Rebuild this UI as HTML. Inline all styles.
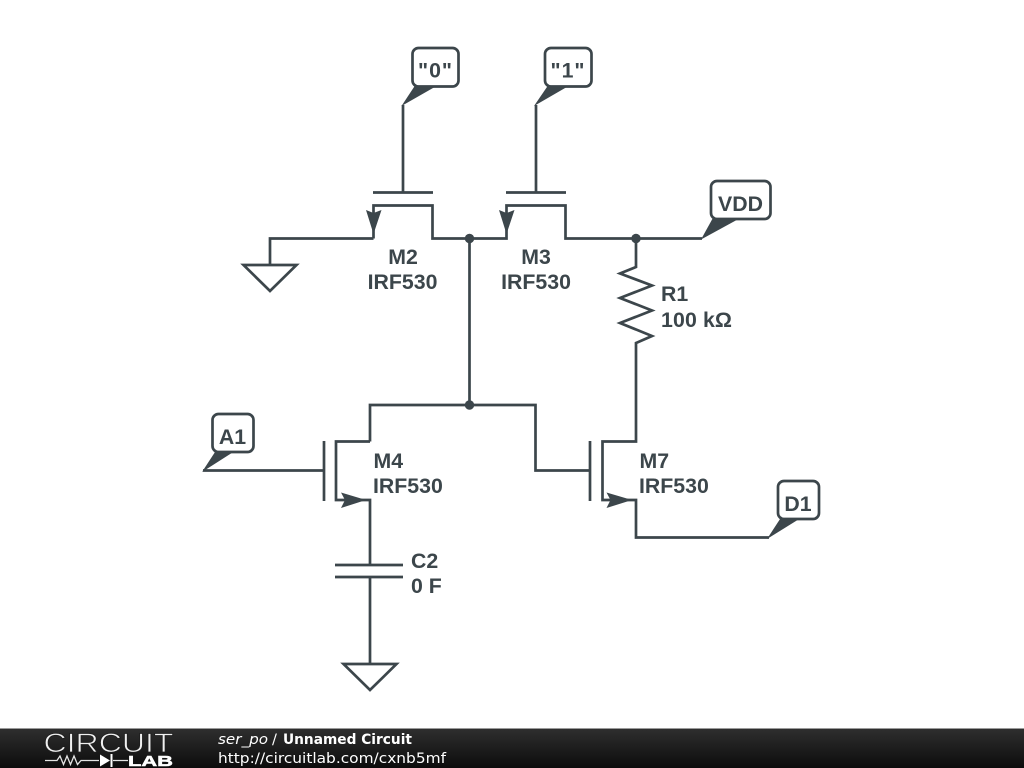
<!DOCTYPE html>
<html><head><meta charset="utf-8"><style>
html,body{margin:0;padding:0;background:#fff;width:1024px;height:768px;overflow:hidden}
svg{display:block}
.w{fill:none;stroke:#3c464b;stroke-width:2.7;stroke-linecap:butt;stroke-linejoin:miter}
.f{fill:#3c464b;stroke:none}
.t{font-family:"Liberation Sans",sans-serif;font-weight:bold;font-size:21.3px;fill:#3c464b}
.d{font-family:"DejaVu Sans",sans-serif;font-size:14.6px;fill:#fff}
</style></head><body>
<svg width="1024" height="768" viewBox="0 0 1024 768" xmlns="http://www.w3.org/2000/svg">
<defs><linearGradient id="g" x1="0" y1="0" x2="0" y2="1"><stop offset="0" stop-color="#2e2e2e"/><stop offset="1" stop-color="#0c0c0c"/></linearGradient></defs>
<rect width="1024" height="768" fill="#fff"/>
<!-- wires -->
<path class="w" d="M403 105V192.5M373 192.5H433M373.5 238.5V205.5H432.5V238.5H506.5V205.5H565.5V238.5H702M506 192.5H566M536 105V192.5"/>
<path class="w" d="M373.5 238.5H270V265"/>
<path class="w" d="M243.5 265H296.5L270 291Z"/>
<path class="w" d="M469.5 238.5V405M370 441.5V405H535.5V470.5H590"/>
<path class="w" d="M203 470.5H324M324 441V501M370 441.5H336V500H370V565M335 565H403M335 577H403M370 577V664"/>
<path class="w" d="M343.5 664H396.5L370 690Z"/>
<path class="w" d="M636 238.5V267L620 273.5L652 285.5L620 298L652 310.5L620 323L652 336L636 343V441.5H602.5V500H636V537.5H769"/>
<path class="w" d="M590 441V501"/>
<!-- junctions -->
<circle class="f" cx="469.5" cy="238.5" r="4.7"/><circle class="f" cx="636" cy="238.5" r="4.7"/><circle class="f" cx="469.5" cy="405" r="4.7"/>
<!-- arrows -->
<path class="f" d="M366 210L373.5 213L381.5 210L373.5 234Z"/>
<path class="f" d="M499 210L506.5 213L514.5 210L506.5 234Z"/>
<path class="f" d="M341 492.5L345 500L341 508L366 500Z"/>
<path class="f" d="M606.5 492.5L610.5 500L606.5 508L632 500Z"/>
<!-- tails -->
<path class="f" d="M401.500 106L416 84H440Z"/><path class="f" d="M534 106L549 84H572Z"/>
<path class="f" d="M701 239.500L714 216H744Z"/><path class="f" d="M202 472L217 449H238Z"/><path class="f" d="M767 539L782 516H804Z"/>
<!-- boxes -->
<rect class="w" x="412.5" y="48" width="46" height="38.5" rx="6" style="fill:#fff"/>
<rect class="w" x="545" y="48" width="46.5" height="38.5" rx="6" style="fill:#fff"/>
<rect class="w" x="711" y="181" width="59.5" height="38" rx="6" style="fill:#fff"/>
<rect class="w" x="212.5" y="414" width="41" height="38" rx="6" style="fill:#fff"/>
<rect class="w" x="778" y="481" width="41" height="38" rx="6" style="fill:#fff"/>
<!-- labels -->
<g class="t" text-anchor="middle">
<text x="435.5" y="77.5" letter-spacing="1">"0"</text><text x="568" y="77.5" letter-spacing="1">"1"</text><text x="740.5" y="211">VDD</text><text x="232.5" y="444">A1</text><text x="798" y="511">D1</text>
<text x="403" y="264">M2</text><text x="402.5" y="289">IRF530</text><text x="536" y="264">M3</text><text x="536" y="289">IRF530</text>
</g>
<g class="t">
<text x="661" y="301">R1</text><text x="661" y="327" textLength="71">100 kΩ</text>
<text x="373.5" y="468">M4</text><text x="373" y="493">IRF530</text>
<text x="639.5" y="468">M7</text><text x="639" y="493">IRF530</text>
<text x="411" y="568">C2</text><text x="411" y="593">0 F</text>
</g>
<!-- footer -->
<rect x="0" y="729" width="1024" height="39" fill="url(#g)"/>
<rect x="0" y="728" width="1024" height="1" fill="#9a9a9a"/>
<text x="43.5" y="752" font-family="'Liberation Sans',sans-serif" font-size="26.5" fill="#f0f0f0" stroke="#1f1f1f" stroke-width="0.8" textLength="130" lengthAdjust="spacingAndGlyphs">CIRCUIT</text>
<path d="M45 760.5H57L60 756L63.500 764.500L67 756L70.500 764.500L74 756L77.500 764.500L81 760.500H99M113 760.5H128" fill="none" stroke="#e4e4e4" stroke-width="1.3"/>
<path d="M100 754.500L110 760.500L100 766.500Z M110.500 754V767H112.500V754Z" fill="#fff"/>
<text x="128" y="766" font-family="'Liberation Sans',sans-serif" font-weight="bold" font-size="15" fill="#fff" stroke="#fff" stroke-width="0.5" textLength="45" lengthAdjust="spacingAndGlyphs">LAB</text>
<text class="d" x="218" y="744" font-style="italic" textLength="50" lengthAdjust="spacingAndGlyphs">ser_po</text>
<text class="d" x="272" y="744">/</text>
<text class="d" x="283" y="744" font-weight="bold" textLength="129" lengthAdjust="spacingAndGlyphs">Unnamed Circuit</text>
<text class="d" x="218" y="763" textLength="228" lengthAdjust="spacingAndGlyphs">http://circuitlab.com/cxnb5mf</text>
</svg>
</body></html>
